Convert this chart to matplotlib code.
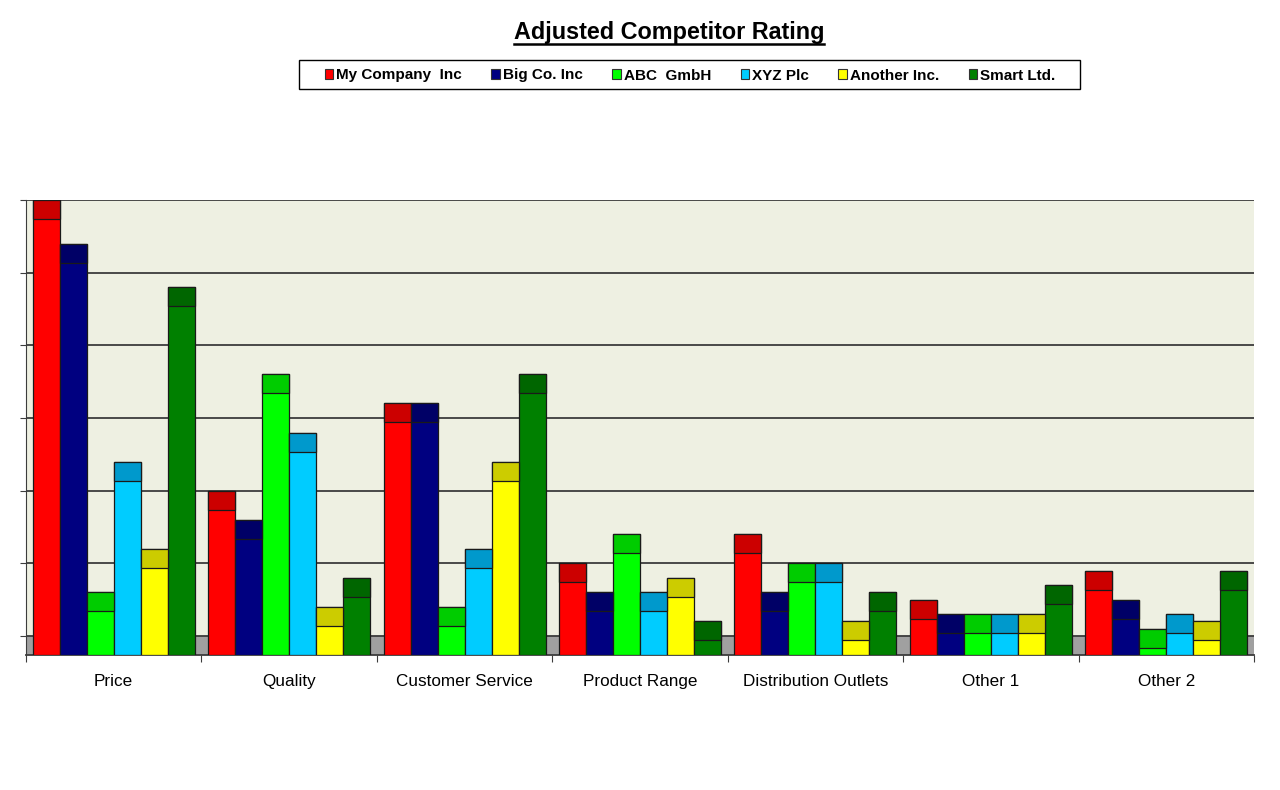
import numpy as np
import matplotlib
matplotlib.use("Agg")
import matplotlib.pyplot as plt
from matplotlib.patches import Patch, Rectangle
from matplotlib.lines import Line2D

plt.rcParams['font.family'] = ['Liberation Sans', 'DejaVu Sans']

categories = ["Price", "Quality", "Customer Service", "Product Range",
              "Distribution Outlets", "Other 1", "Other 2"]
companies = ["My Company  Inc", "Big Co. Inc", "ABC  GmbH", "XYZ Plc",
             "Another Inc.", "Smart Ltd."]

my_company = [6.0, 2.0, 3.2, 1.0, 1.4, 0.5, 0.9]
big_co = [5.4, 1.6, 3.2, 0.6, 0.6, 0.3, 0.5]
abc_gmbh = [0.6, 3.6, 0.4, 1.4, 1.0, 0.3, 0.1]
xyz_plc = [2.4, 2.8, 1.2, 0.6, 1.0, 0.3, 0.3]
another_inc = [1.2, 0.4, 2.4, 0.8, 0.2, 0.3, 0.2]
smart_ltd = [4.8, 0.8, 3.6, 0.2, 0.6, 0.7, 0.9]
series = [my_company, big_co, abc_gmbh, xyz_plc, another_inc, smart_ltd]

front_colors = ["#FF0000", "#000080", "#00FF00", "#00CCFF", "#FFFF00", "#008000"]
top_colors = ["#CC0000", "#000066", "#00CC00", "#0099CC", "#CCCC00", "#006600"]

fig = plt.figure(figsize=(12.8, 7.9), dpi=100)
ax = fig.add_axes([26 / 1280, 1 - 655 / 790, 1228 / 1280, 455 / 790])
ax.set_facecolor("#EEF0E2")

depth = 0.261  # height of the bar "top face" (3D look)
x = np.arange(len(categories))
w = 27 / 175.4

# floor band and gridlines on the back wall
ax.axhspan(-depth, 0, color="#A0A0A0", zorder=1)
ax.hlines(np.arange(0, 7), -0.5, 6.5, color="#3C3C3C", lw=1.3, zorder=1)

for i, vals in enumerate(series):
    vals = np.array(vals)
    xs = x + (i - 2.5) * w
    ax.bar(xs, vals + depth, bottom=-depth, width=w, color=front_colors[i],
           edgecolor="#1A1A1A", linewidth=0.9, zorder=3)
    ax.bar(xs, depth, bottom=vals - depth, width=w, color=top_colors[i],
           edgecolor="#1A1A1A", linewidth=0.9, zorder=4)

ax.set_xlim(-0.5, 6.5)
ax.set_ylim(-depth, 6.0)
for s in ["top", "right"]:
    ax.spines[s].set_visible(False)
ax.spines["left"].set_color("#3C3C3C")
ax.spines["bottom"].set_color("#3C3C3C")
ax.spines["bottom"].set_linewidth(1.3)

ax.set_yticks(np.arange(0, 7))
ax.set_yticklabels([])
ax.tick_params(axis="y", length=4, color="#3C3C3C")
ax.set_xticks(np.arange(-0.5, 7.0, 1.0))
ax.set_xticklabels([])
ax.set_xticks(x, minor=True)
ax.set_xticklabels(categories, minor=True, fontsize=12.3)
ax.tick_params(axis="x", which="major", length=5, color="#3C3C3C")
ax.tick_params(axis="x", which="minor", length=0, pad=14)

# legend without frame, box drawn separately
handles = [Patch(facecolor=c, edgecolor="#333333", linewidth=0.8) for c in front_colors]
fig.legend(handles, companies, loc="center", ncol=6,
           bbox_to_anchor=(690 / 1280, 1 - 75.5 / 790),
           frameon=False, handlelength=0.55, handleheight=0.55,
           handletextpad=0.2, columnspacing=1.93, borderpad=0, borderaxespad=0,
           prop={"weight": "bold", "size": 11})
fig.add_artist(Rectangle((299 / 1280, 1 - 89 / 790), 781 / 1280, 29 / 790,
                         transform=fig.transFigure, facecolor="none",
                         edgecolor="black", lw=1.0))

title = fig.text(669 / 1280, 1 - 33 / 790, "Adjusted Competitor Rating",
                 ha="center", va="center", fontsize=16.8, fontweight="bold")

# underline the title
fig.canvas.draw()
bb = title.get_window_extent()
fig.add_artist(Line2D([bb.x0, bb.x1], [bb.y0 + 1, bb.y0 + 1],
                      transform=None, color="black", lw=1.8))

fig.savefig("out.png", dpi=100)
